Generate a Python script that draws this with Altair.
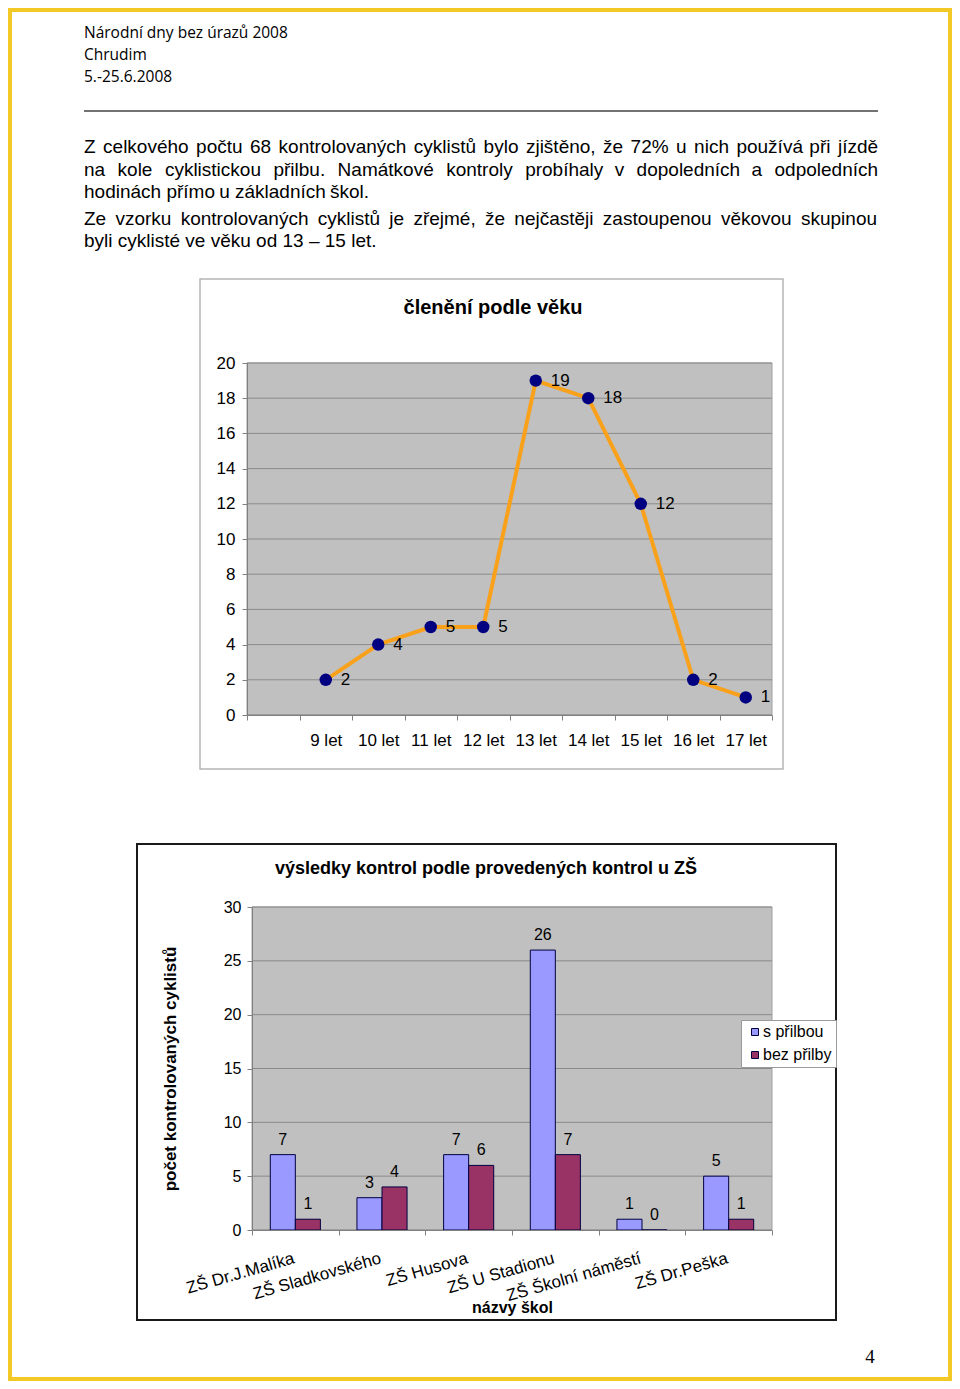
import unicodedata
import altair as alt
import pandas as pd

# ---------------- data ----------------
age_groups = ["9 let", "10 let", "11 let", "12 let", "13 let", "14 let", "15 let", "16 let", "17 let"]
age_counts = [2, 4, 5, 5, 19, 18, 12, 2, 1]
age_axis_slots = [""] + age_groups          # first category slot is empty in the original
age_ticks = [0, 2, 4, 6, 8, 10, 12, 14, 16, 18, 20]

schools = ["ZŠ Dr.J.Malíka", "ZŠ Sladkovského", "ZŠ Husova", "ZŠ U Stadionu",
           "ZŠ Školní náměstí", "ZŠ Dr.Peška"]
series_names = ["s přilbou", "bez přilby"]
with_helmet = [7, 3, 7, 26, 1, 5]
without_helmet = [1, 4, 6, 7, 0, 1]
count_ticks = [0, 5, 10, 15, 20, 25, 30]

header_lines = ["Národní dny bez úrazů 2008", "Chrudim", "5.-25.6.2008"]
paragraph_lines = [
    "Z celkového počtu 68 kontrolovaných cyklistů bylo zjištěno, že 72% u nich používá při jízdě",
    "na kole cyklistickou přilbu. Namátkové kontroly probíhaly v dopoledních a odpoledních",
    "hodinách přímo u základních škol.",
    "Ze vzorku kontrolovaných cyklistů je zřejmé, že nejčastěji zastoupenou věkovou skupinou",
    "byli cyklisté ve věku od 13 – 15 let.",
]
paragraph_justified = [True, True, False, True, False]
line_title = "členění podle věku"
bar_title = "výsledky kontrol podle provedených kontrol u ZŠ"
bar_y_title = "počet kontrolovaných cyklistů"
bar_x_title = "názvy škol"
page_number = "4"

# ---------------- page layout ----------------
W, H = 944, 1373
OX, OY = 8, 8
def px(x):
    return x - OX
def py(y):
    return y - OY

SANS = "Liberation Sans"
BLACK = "#000000"
AXIS_GRAY = "#808080"
GRID_GRAY = "#8a8a8a"
PLOT_BG = "#C0C0C0"

# Arial / Liberation Sans advance widths (per 1000 em) for justification
_w = dict(zip("abcdefghijklmnopqrstuvwxyz",
              [556,556,500,556,556,278,556,556,222,222,500,222,833,556,556,556,556,333,500,278,556,500,722,500,500,500]))
_w.update(dict(zip("ABCDEFGHIJKLMNOPQRSTUVWXYZ",
                   [667,667,722,722,667,611,778,722,278,500,667,556,833,722,778,667,778,722,667,611,722,667,944,667,667,611])))
_w.update({d: 556 for d in "0123456789"})
_w.update({" ": 278, ".": 278, ",": 278, "%": 889, "–": 556, "-": 333})

def text_width(s, size):
    tot = 0
    for ch in s:
        base = unicodedata.normalize("NFD", ch)[0]
        tot += _w.get(base, 556)
    return tot * size / 1000.0

PARA_SIZE = 19
para_left, para_right = 84, 877
para_ys = [147, 170, 192, 219, 241]
rows = []
for line, yy, just in zip(paragraph_lines, para_ys, paragraph_justified):
    words = line.split(" ")
    widths = [text_width(w, PARA_SIZE) for w in words]
    if just and len(words) > 1:
        gap = (para_right - para_left - sum(widths)) / (len(words) - 1)
    else:
        gap = text_width(" ", PARA_SIZE)
    xx = para_left
    for w, wd in zip(words, widths):
        rows.append({"word": w, "x": px(xx), "y": py(yy)})
        xx += wd + gap
para_df = pd.DataFrame(rows)


def text_layer(text, x, y, size, align="left", weight="normal", font=SANS, color=BLACK, angle=0):
    return alt.Chart(pd.DataFrame({"t": [text]})).mark_text(
        fontSize=size, font=font, align=align, baseline="middle", fontWeight=weight,
        color=color, angle=angle,
    ).encode(x=alt.value(px(x)), y=alt.value(py(y)), text="t:N")


def box_layer(x1, y1, x2, y2, stroke=None, fill=None, width=1.0):
    kw = {}
    if fill is not None:
        kw["fill"] = fill
    else:
        kw["fillOpacity"] = 0
    if stroke is not None:
        kw["stroke"] = stroke
        kw["strokeWidth"] = width
    return alt.Chart(pd.DataFrame({"a": [0]})).mark_rect(**kw).encode(
        x=alt.value(px(x1)), x2=alt.value(px(x2)), y=alt.value(py(y1)), y2=alt.value(py(y2)))


page_layers = []
# page border
page_layers.append(alt.Chart(pd.DataFrame({"a": [0]})).mark_rect(
    fillOpacity=0, stroke="#F3C928", strokeWidth=4).encode(
    x=alt.value(2), x2=alt.value(W - 2), y=alt.value(2), y2=alt.value(H - 2)))
# header
for t, yy in zip(header_lines, [33, 55, 77]):
    page_layers.append(text_layer(t, 84, yy, 15.5, font="Open Sans"))
page_layers.append(alt.Chart(pd.DataFrame({"a": [0]})).mark_rule(color="#444444", strokeWidth=1.5).encode(
    x=alt.value(px(84)), x2=alt.value(px(878)), y=alt.value(py(111))))
# paragraph
page_layers.append(alt.Chart(para_df).mark_text(
    fontSize=PARA_SIZE, font=SANS, align="left", baseline="middle", color=BLACK).encode(
    x=alt.X("x:Q", scale=None), y=alt.Y("y:Q", scale=None), text="word:N"))
# page number
page_layers.append(text_layer(page_number, 870, 1357, 19, align="center", font="Liberation Serif"))

# chart frames, titles and plot backgrounds
page_layers.append(box_layer(200, 279, 783, 769, stroke="#B5B5B5", width=1.5))
page_layers.append(text_layer(line_title, 493, 308, 20, align="center", weight="bold"))
page_layers.append(box_layer(247, 363, 772, 715, fill=PLOT_BG, stroke="#A0A0A0", width=1))

page_layers.append(box_layer(137, 844, 836, 1320, stroke="#1a1a1a", width=2))
page_layers.append(text_layer(bar_title, 486, 869, 18, align="center", weight="bold"))
page_layers.append(box_layer(252, 907, 772, 1230, fill=PLOT_BG, stroke="#A0A0A0", width=1))

# ---------------- line chart: členění podle věku ----------------
line_df = pd.DataFrame({"vek": age_groups, "pocet": age_counts})
line_x = alt.X(
    "vek:N",
    scale=alt.Scale(type="band", domain=age_axis_slots, range=[px(247), px(772)],
                    paddingInner=0, paddingOuter=0),
    axis=alt.Axis(orient="bottom", offset=py(715) - H, title=None, tickBand="extent",
                  labelAngle=0, labelFontSize=17, labelFont=SANS, labelColor=BLACK,
                  labelPadding=12, tickSize=5, tickColor=AXIS_GRAY, domainColor=AXIS_GRAY,
                  grid=False, zindex=1),
)
line_y = alt.Y(
    "pocet:Q",
    scale=alt.Scale(domain=[0, 20], range=[py(715), py(363)], nice=False),
    axis=alt.Axis(orient="left", offset=-px(247), title=None, values=age_ticks,
                  labelFontSize=17, labelFont=SANS, labelColor=BLACK, labelPadding=7,
                  labelFlush=False, tickSize=5, tickColor=AXIS_GRAY, domainColor=AXIS_GRAY,
                  grid=False, zindex=1),
)
line_grid = alt.Chart(pd.DataFrame({"pocet": age_ticks})).mark_rule(
    color=GRID_GRAY, strokeWidth=1).encode(
    y=line_y, x=alt.value(px(247)), x2=alt.value(px(772)))
line_path = alt.Chart(line_df).mark_line(color="#F9A11B", strokeWidth=4).encode(x=line_x, y=line_y)
line_pts = alt.Chart(line_df).mark_circle(size=155, color="#000080", opacity=1).encode(x=line_x, y=line_y)
line_lbl = alt.Chart(line_df).mark_text(
    align="left", baseline="middle", dx=15, fontSize=17, font=SANS, color=BLACK).encode(
    x=line_x, y=line_y, text="pocet:Q")
line_chart = alt.layer(line_grid, line_path, line_pts, line_lbl)

# ---------------- bar chart: výsledky kontrol ----------------
bar_df = pd.DataFrame({
    "skola": schools * 2,
    "serie": [series_names[0]] * len(schools) + [series_names[1]] * len(schools),
    "pocet": with_helmet + without_helmet,
})
bar_x = alt.X(
    "skola:N",
    scale=alt.Scale(type="band", domain=schools, range=[px(252), px(772)],
                    paddingInner=0, paddingOuter=0),
    axis=alt.Axis(orient="bottom", offset=py(1230) - H, title=bar_x_title, tickBand="extent",
                  labelAngle=344, labelAlign="right", labelBaseline="top",
                  labelFontSize=17, labelFont=SANS, labelColor=BLACK, labelPadding=15,
                  labelOffset=-4,
                  tickSize=5, tickColor=AXIS_GRAY, domainColor=AXIS_GRAY, grid=False, zindex=1,
                  titleFont=SANS, titleFontSize=16, titleFontWeight="bold", titleColor=BLACK,
                  titleY=py(1307) - py(1230), titleBaseline="middle"),
)
bar_xoff = alt.XOffset(
    "serie:N", scale=alt.Scale(domain=series_names, paddingInner=0, paddingOuter=0.73))
bar_y = alt.Y(
    "pocet:Q",
    scale=alt.Scale(domain=[0, 30], range=[py(1230), py(907)], nice=False),
    axis=alt.Axis(orient="left", offset=-px(252), title=bar_y_title, values=count_ticks,
                  labelFontSize=16, labelFont=SANS, labelColor=BLACK, labelPadding=6,
                  labelFlush=False, tickSize=5, tickColor=AXIS_GRAY, domainColor=AXIS_GRAY,
                  grid=False, zindex=1,
                  titleFont=SANS, titleFontSize=17, titleFontWeight="bold", titleColor=BLACK,
                  titleX=170 - 252, titleBaseline="middle"),
)
bar_color = alt.Color(
    "serie:N",
    scale=alt.Scale(domain=series_names, range=["#9999FF", "#993366"]),
    legend=alt.Legend(orient="none", legendX=px(741), legendY=py(1020), title=None,
                      fillColor="white", strokeColor="#9A9A9A", padding=4,
                      labelFontSize=16, labelFont=SANS, labelColor=BLACK, labelOffset=0,
                      symbolOffset=2,
                      symbolType="square", symbolSize=49, symbolStrokeColor="#000040",
                      symbolStrokeWidth=1, symbolOpacity=1, rowPadding=7),
)
bar_grid = alt.Chart(pd.DataFrame({"pocet": count_ticks})).mark_rule(
    color=GRID_GRAY, strokeWidth=1).encode(
    y=bar_y, x=alt.value(px(252)), x2=alt.value(px(772)))
bars = alt.Chart(bar_df).mark_bar(stroke="#000040", strokeWidth=1).encode(
    x=bar_x, xOffset=bar_xoff, y=bar_y, color=bar_color)
bar_lbl = alt.Chart(bar_df).mark_text(
    align="center", baseline="bottom", dy=-7, fontSize=16, font=SANS, color=BLACK).encode(
    x=bar_x, xOffset=bar_xoff, y=bar_y, text="pocet:Q")
bar_chart = alt.layer(bar_grid, bars, bar_lbl)

chart = alt.layer(*page_layers, line_chart, bar_chart).resolve_scale(
    x="independent", y="independent", color="independent", xOffset="independent"
).properties(
    width=W, height=H, padding=0, autosize=alt.AutoSizeParams(type="none")
).configure_view(strokeWidth=0)

chart.save("out.html", embed_options={"renderer": "svg", "actions": False})
